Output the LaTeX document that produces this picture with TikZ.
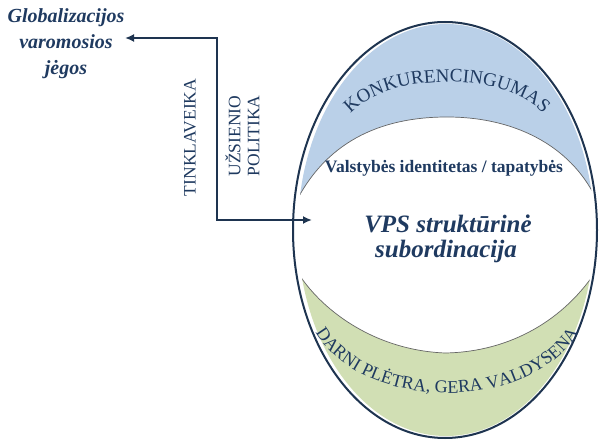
\documentclass[tikz,border=0pt]{standalone}
\usepackage{fontspec}
\setmainfont{Liberation Serif}
\usetikzlibrary{arrows.meta,decorations.text}

\definecolor{ink}{HTML}{1F3A60}
\definecolor{edge}{HTML}{1E3450}
\definecolor{topfill}{HTML}{BAD0E8}
\definecolor{botfill}{HTML}{D1DFB4}

\tikzset{
  rimline/.style={draw=edge, line width=2pt},
  seam/.style={draw=black!60, line width=0.7pt},
  link/.style={draw=edge, line width=1.8pt,
    {Latex[length=9pt,width=8pt]}-{Latex[length=9pt,width=8pt]}},
  lbl/.style={text=ink, inner sep=0pt},
}

\begin{document}
\begin{tikzpicture}[x=1pt,y=1pt]
\fill[white] (0,0) rectangle (600,445);
\useasboundingbox (0,0) rectangle (600,445);

% coloured bands inside the oval
\begin{scope}
  \clip (446,215) ellipse [x radius=148, y radius=206];
  \fill[topfill] (280,237) -- (293,237)
    .. controls (320,295) and (370,328) .. (447,328)
    .. controls (520,328) and (575,295) .. (598,242)
    -- (610,242) -- (610,445) -- (280,445) -- cycle;
  \fill[botfill] (280,179) -- (294,179)
    .. controls (315,140) and (370,95) .. (445,92)
    .. controls (510,93) and (565,125) .. (598,177)
    -- (610,177) -- (610,0) -- (280,0) -- cycle;
  \draw[seam] (293,237)
    .. controls (320,295) and (370,328) .. (447,328)
    .. controls (520,328) and (575,295) .. (598,242);
  \draw[seam] (294,179)
    .. controls (315,140) and (370,95) .. (445,92)
    .. controls (510,93) and (565,125) .. (598,177);
\end{scope}

% outer oval
\draw[rimline] (445,215) ellipse [x radius=152, y radius=208];

% curved band titles
\path[decorate, decoration={text along path, text align=center,
    text={|\fontsize{19}{19}\selectfont\color{ink}|KONKURENCINGUMAS}}]
  (342,310) arc[start angle=180, end angle=0, x radius=105, y radius=53];
\path[decorate, decoration={text along path, text align=center,
    text={|\fontsize{18}{18}\selectfont\color{ink}|DARNI PLĖTRA, GERA VALDYSENA}}]
  (307,145) arc[start angle=180, end angle=360, x radius=140, y radius=93];

% inner labels
\node[lbl, font=\bfseries\fontsize{17.5}{20}\selectfont, anchor=base] (ident)
  at (444,272) {Valstybės identitetas / tapatybės};
\node[lbl, font=\bfseries\itshape\fontsize{25}{25}\selectfont, anchor=base] (vpsa)
  at (448,212) {VPS struktūrinė};
\node[lbl, font=\bfseries\itshape\fontsize{25}{25}\selectfont, anchor=base] (vpsb)
  at (446,187) {subordinacija};

% left side labels
\node[lbl, font=\bfseries\itshape\fontsize{20}{26}\selectfont, align=center] (glob)
  at (66,401) {Globalizacijos\\varomosios\\jėgos};
\node[lbl, rotate=90, font=\fontsize{17.5}{19}\selectfont] (net)
  at (190,307.5) {TINKLAVEIKA};
\node[lbl, rotate=90, align=center, font=\fontsize{17.5}{19}\selectfont] (policy)
  at (242.5,309) {UŽSIENIO\\POLITIKA};

% two-headed elbow connector
\coordinate (gtip) at (125,407);
\coordinate (bend) at (217,407);
\coordinate (knee) at (217,225);
\coordinate (etip) at (312,225);
\draw[link] (gtip) -- (bend) -- (knee) -- (etip);
\end{tikzpicture}
\end{document}
